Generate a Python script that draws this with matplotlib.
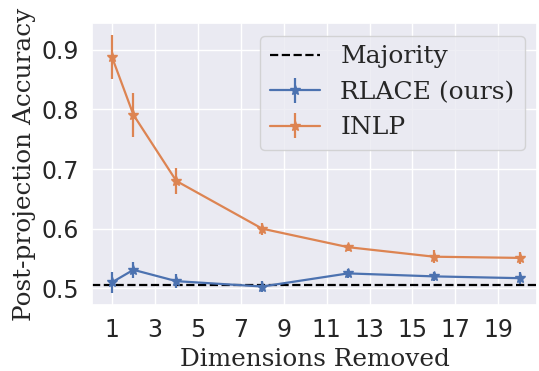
import matplotlib
matplotlib.use("Agg")
import matplotlib.pyplot as plt
import seaborn as sns

# Data
dims = [1, 2, 4, 8, 12, 16, 20]
rlace_acc = [0.510, 0.531, 0.512, 0.503, 0.525, 0.520, 0.517]
rlace_err = [0.018, 0.013, 0.012, 0.010, 0.008, 0.007, 0.010]
inlp_acc = [0.888, 0.791, 0.680, 0.600, 0.569, 0.553, 0.551]
inlp_err = [0.037, 0.037, 0.022, 0.010, 0.006, 0.011, 0.010]
majority = 0.5055
xticks = [1, 3, 5, 7, 9, 11, 13, 15, 17, 19]
yticks = [0.5, 0.6, 0.7, 0.8, 0.9]

sns.set_theme(style="darkgrid")
colors = sns.color_palette("deep")

fig = plt.figure(figsize=(5.39, 3.71), dpi=100)
ax = fig.add_axes([92 / 539, 66 / 371, 445 / 539, 282 / 371])

ax.axhline(majority, color="black", linestyle="--", linewidth=1.6, label="Majority")
ax.errorbar(dims, rlace_acc, yerr=rlace_err, color=colors[0], marker="*",
            markersize=7, linewidth=1.6, label="RLACE (ours)")
ax.errorbar(dims, inlp_acc, yerr=inlp_err, color=colors[1], marker="*",
            markersize=7, linewidth=1.6, label="INLP")

ax.set_xlim(0.07, 20.8)
ax.set_ylim(0.472, 0.945)
ax.set_xticks(xticks)
ax.set_yticks(yticks)
ax.tick_params(labelsize=17)

ax.set_xlabel("Dimensions Removed", family="DejaVu Serif", fontsize=17.8)
ax.set_ylabel("Post-projection Accuracy", family="DejaVu Serif", fontsize=17.8,
              labelpad=4)
ax.legend(loc="upper right", prop={"family": "DejaVu Serif", "size": 18})

fig.savefig("out.png", dpi=100)
